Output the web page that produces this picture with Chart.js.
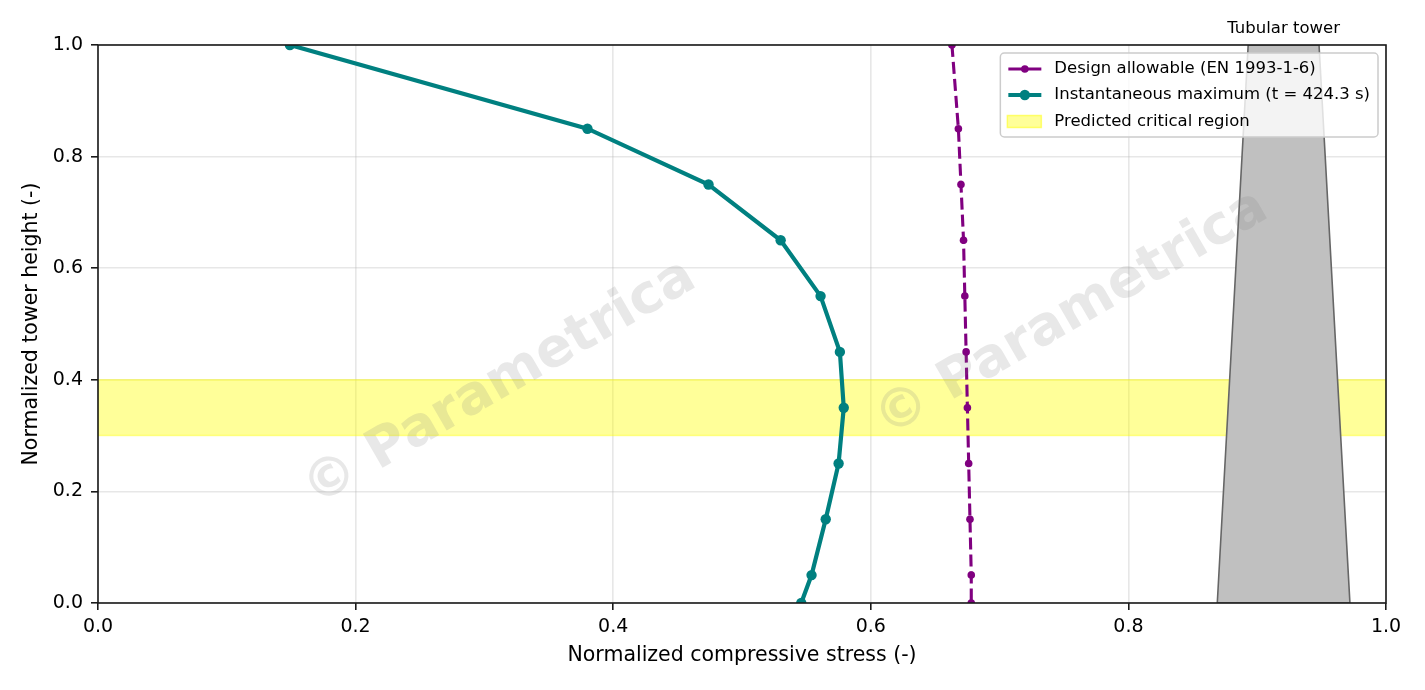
<!DOCTYPE html>
<html>
<head>
<meta charset="utf-8">
<script src="https://cdn.jsdelivr.net/npm/chart.js"></script>
<style>
  html, body { margin: 0; padding: 0; background: #fff; }
  #wrap { width: 1425px; height: 690px; }
</style>
</head>
<body>
<div id="wrap"><canvas id="stress-chart" width="1425" height="690"></canvas></div>
<script>
// data
const heights = [1.0, 0.85, 0.75, 0.65, 0.55, 0.45, 0.35, 0.25, 0.15, 0.05, 0.0];
const designAllowable = [0.663, 0.668, 0.670, 0.672, 0.673, 0.674, 0.675, 0.676, 0.677, 0.678, 0.678];
const instantaneousMax = [0.149, 0.380, 0.474, 0.530, 0.561, 0.576, 0.579, 0.575, 0.565, 0.554, 0.546];
const criticalBand = [0.3, 0.4];
const towerX = [0.869, 0.972, 0.948, 0.893, 0.869];
const towerY = [0.0, 0.0, 1.0, 1.0, 0.0];
const xTicks = [0, 0.2, 0.4, 0.6, 0.8, 1.0];
const yTicks = [0, 0.2, 0.4, 0.6, 0.8, 1.0];
const legendLabels = ['Design allowable (EN 1993-1-6)', 'Instantaneous maximum (t = 424.3 s)', 'Predicted critical region'];
const watermarkText = '\u00a9 Parametrica';

const FONT = "'DejaVu Sans', sans-serif";

function pts(xs, ys) {
  return xs.map((x, i) => ({ x: x, y: ys[i] }));
}

const bandData = [
  { x: 0, y: criticalBand[0] }, { x: 1, y: criticalBand[0] },
  { x: 1, y: criticalBand[1] }, { x: 0, y: criticalBand[1] },
  { x: 0, y: criticalBand[0] }
];

// frame, watermark, inset title and legend
const decorations = {
  id: 'decorations',
  afterDatasetsDraw(chart) {
    const ctx = chart.ctx;
    const a = chart.chartArea;
    const xs = chart.scales.x;

    // watermark
    ctx.save();
    ctx.font = 'bold 54px ' + FONT;
    ctx.fillStyle = 'rgba(128,128,128,0.18)';
    ctx.textAlign = 'center';
    ctx.textBaseline = 'middle';
    [[0.312, 0.607], [0.756, 0.483]].forEach(function(p) {
      ctx.save();
      ctx.translate(a.left + p[0] * (a.right - a.left), a.top + p[1] * (a.bottom - a.top));
      ctx.rotate(-30 * Math.PI / 180);
      ctx.fillText(watermarkText, 0, 0);
      ctx.restore();
    });
    ctx.restore();

    // frame
    ctx.save();
    ctx.strokeStyle = '#1a1a1a';
    ctx.lineWidth = 1.6;
    ctx.strokeRect(a.left, a.top, a.right - a.left, a.bottom - a.top);
    ctx.restore();

    // inset title
    ctx.save();
    ctx.font = '16.5px ' + FONT;
    ctx.fillStyle = '#000';
    ctx.textAlign = 'center';
    ctx.textBaseline = 'middle';
    ctx.fillText('Tubular tower', xs.getPixelForValue((towerX[2] + towerX[3]) / 2), a.top - 16);
    ctx.restore();

    // legend
    ctx.save();
    ctx.font = '16.5px ' + FONT;
    let maxW = 0;
    legendLabels.forEach(function(t) { maxW = Math.max(maxW, ctx.measureText(t).width); });
    const pad = 8, handle = 33, gap = 13, rowH = 26;
    const w = pad + handle + gap + maxW + pad;
    const h = 84;
    const right = a.right - 8, top = a.top + 8;
    const left = right - w;
    ctx.beginPath();
    ctx.roundRect(left, top, w, h, 4);
    ctx.fillStyle = 'rgba(255,255,255,0.8)';
    ctx.fill();
    ctx.strokeStyle = '#cccccc';
    ctx.lineWidth = 1.5;
    ctx.stroke();

    const hx0 = left + pad, hx1 = hx0 + handle, hxm = (hx0 + hx1) / 2;
    const rows = [top + 16, top + 16 + rowH, top + 16 + rowH * 2 + 0.5];

    // purple entry
    ctx.strokeStyle = '#800080';
    ctx.lineWidth = 3.1;
    ctx.beginPath(); ctx.moveTo(hx0, rows[0]); ctx.lineTo(hx1, rows[0]); ctx.stroke();
    ctx.fillStyle = '#800080';
    ctx.beginPath(); ctx.arc(hxm, rows[0], 3.8, 0, Math.PI * 2); ctx.fill();
    // teal entry
    ctx.strokeStyle = '#008080';
    ctx.lineWidth = 4.2;
    ctx.beginPath(); ctx.moveTo(hx0, rows[1]); ctx.lineTo(hx1, rows[1]); ctx.stroke();
    ctx.fillStyle = '#008080';
    ctx.beginPath(); ctx.arc(hxm, rows[1], 5.2, 0, Math.PI * 2); ctx.fill();
    // band entry
    ctx.fillStyle = 'rgba(255,255,0,0.4)';
    ctx.fillRect(hx0 - 1, rows[2] - 6, handle + 1, 12);
    ctx.strokeStyle = 'rgba(255,255,0,0.5)';
    ctx.lineWidth = 1.5;
    ctx.strokeRect(hx0 - 1, rows[2] - 6, handle + 1, 12);

    ctx.fillStyle = '#000';
    ctx.textAlign = 'left';
    ctx.textBaseline = 'middle';
    legendLabels.forEach(function(t, i) { ctx.fillText(t, hx1 + gap, rows[i]); });
    ctx.restore();
  }
};

const ctx = document.getElementById('stress-chart').getContext('2d');
new Chart(ctx, {
  type: 'line',
  data: {
    datasets: [
      {
        label: legendLabels[1],
        data: pts(instantaneousMax, heights),
        borderColor: '#008080',
        backgroundColor: '#008080',
        borderWidth: 4.2,
        pointRadius: 5.2,
        pointBorderWidth: 0,
        fill: false,
        tension: 0,
        clip: 0,
        order: 1
      },
      {
        label: legendLabels[0],
        data: pts(designAllowable, heights),
        borderColor: '#800080',
        backgroundColor: '#800080',
        borderWidth: 3.1,
        borderDash: [12, 5],
        pointRadius: 3.8,
        pointBorderWidth: 0,
        fill: false,
        tension: 0,
        clip: 0,
        order: 2
      },
      {
        label: 'Tubular tower',
        data: pts(towerX, towerY),
        borderColor: '#666666',
        backgroundColor: '#c0c0c0',
        borderWidth: 1.6,
        pointRadius: 0,
        fill: 'shape',
        tension: 0,
        clip: 0,
        order: 4
      },
      {
        label: legendLabels[2],
        data: bandData,
        borderColor: 'rgba(255,255,0,0.4)',
        backgroundColor: 'rgba(255,255,0,0.4)',
        borderWidth: 1.5,
        pointRadius: 0,
        fill: 'shape',
        tension: 0,
        clip: 0,
        order: 5
      }
    ]
  },
  options: {
    responsive: false,
    animation: false,
    events: [],
    layout: { padding: { left: 0, top: 45, right: 39, bottom: 0 } },
    plugins: {
      legend: { display: false },
      tooltip: { enabled: false }
    },
    scales: {
      x: {
        type: 'linear',
        min: 0,
        max: 1,
        afterFit: function(scale) { scale.height = 87; },
        afterBuildTicks: function(scale) { scale.ticks = xTicks.map(v => ({ value: v })); },
        ticks: {
          color: '#000',
          font: { family: FONT, size: 19 },
          padding: 6,
          maxRotation: 0,
          callback: v => Number(v).toFixed(1)
        },
        grid: {
          color: 'rgba(176,176,176,0.3)',
          lineWidth: 1.6,
          tickColor: '#1a1a1a',
          tickWidth: 1.6,
          tickLength: 7
        },
        border: { display: false },
        title: {
          display: true,
          text: 'Normalized compressive stress (-)',
          color: '#000',
          font: { family: FONT, size: 20.5 },
          padding: { top: 0, bottom: 22 }
        }
      },
      y: {
        type: 'linear',
        min: 0,
        max: 1,
        afterFit: function(scale) { scale.width = 98; },
        afterBuildTicks: function(scale) { scale.ticks = yTicks.map(v => ({ value: v })); },
        ticks: {
          color: '#000',
          font: { family: FONT, size: 19 },
          padding: 8,
          callback: v => Number(v).toFixed(1)
        },
        grid: {
          color: 'rgba(176,176,176,0.3)',
          lineWidth: 1.6,
          tickColor: '#1a1a1a',
          tickWidth: 1.6,
          tickLength: 7
        },
        border: { display: false },
        title: {
          display: true,
          text: 'Normalized tower height (-)',
          color: '#000',
          font: { family: FONT, size: 20.5 },
          padding: { top: 19, bottom: 0 }
        }
      }
    }
  },
  plugins: [decorations]
});
</script>
</body>
</html>
